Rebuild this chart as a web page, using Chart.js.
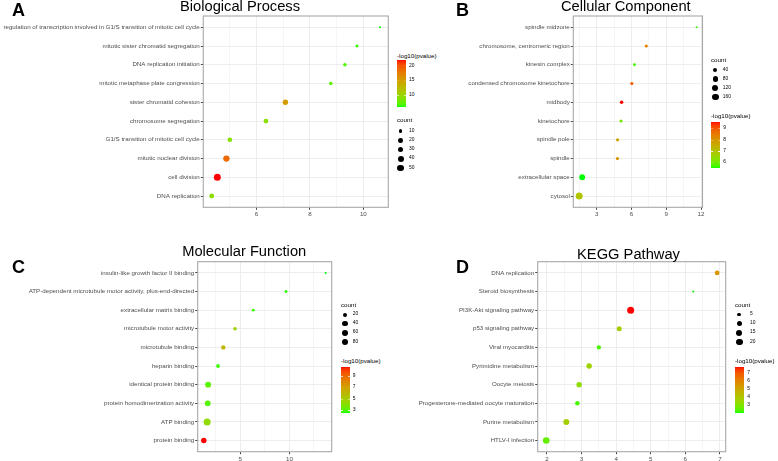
<!DOCTYPE html>
<html><head><meta charset="utf-8">
<script src="https://cdn.jsdelivr.net/npm/chart.js@4/dist/chart.umd.min.js"></script>
<style>
html,body{margin:0;padding:0;background:#fff;width:778px;height:461px;overflow:hidden;}
#root{position:relative;width:778px;height:461px;font-family:"Liberation Sans",Arial,Helvetica,sans-serif;}
.t{position:absolute;white-space:nowrap;line-height:1;color:#000;}
.dot{position:absolute;border-radius:50%;background:#000;}
</style></head><body>
<div id="root"></div>
<script>
// ---------------- DATA ----------------
// A: Biological Process (top to bottom)
const bpTerms = ["regulation of transcription involved in G1/S transition of mitotic cell cycle","mitotic sister chromatid segregation","DNA replication initiation","mitotic metaphase plate congression","sister chromatid cohesion","chromosome segregation","G1/S transition of mitotic cell cycle","mitotic nuclear division","cell division","DNA replication"];
const bpEnrich = [10.62, 9.76, 9.31, 8.78, 7.08, 6.35, 5.00, 4.87, 4.53, 4.32];
const bpCount  = [5, 7, 10, 10, 28, 20, 19, 42, 55, 22];
const bpLogP   = [6.2, 6.7, 7.3, 7.5, 15.3, 9.3, 9.3, 18.8, 22.0, 9.6];
const bpXTicks = [6, 8, 10];
const bpXGrid  = [5, 6, 7, 8, 9, 10];
const bpCountBreaks = [10, 20, 30, 40, 50];
const bpColorBreaks = [10, 15, 20];

// B: Cellular Component
const ccTerms = ["spindle midzone","chromosome, centromeric region","kinesin complex","condensed chromosome kinetochore","midbody","kinetochore","spindle pole","spindle","extracellular space","cytosol"];
const ccEnrich = [11.62, 7.28, 6.26, 6.03, 5.15, 5.10, 4.80, 4.79, 1.75, 1.49];
const ccCount  = [10, 20, 15, 20, 25, 20, 22, 22, 120, 190];
const ccLogP   = [5.65, 8.4, 5.75, 9.0, 9.6, 6.1, 7.7, 8.0, 5.55, 6.97];
const ccXTicks = [3, 6, 9, 12];
const ccXGrid  = [1.5, 3, 4.5, 6, 7.5, 9, 10.5, 12];
const ccCountBreaks = [40, 80, 120, 160];
const ccColorBreaks = [6, 7, 8, 9];

// C: Molecular Function
const mfTerms = ["insulin-like growth factor II binding","ATP-dependent microtubule motor activity, plus-end-directed","extracellular matrix binding","microtubule motor activity","microtubule binding","heparin binding","identical protein binding","protein homodimerization activity","ATP binding","protein binding"];
const mfEnrich = [13.69, 9.66, 6.32, 4.46, 3.27, 2.73, 1.72, 1.68, 1.62, 1.28];
const mfCount  = [3, 5, 6, 12, 22, 15, 55, 52, 90, 45];
const mfLogP   = [2.57, 2.7, 2.8, 4.8, 6.2, 2.9, 3.2, 3.1, 4.4, 10.7];
const mfXTicks = [5, 10];
const mfXGrid  = [2.5, 5, 7.5, 10, 12.5];
const mfCountBreaks = [20, 40, 60, 80];
const mfColorBreaks = [3, 5, 7, 9];

// D: KEGG Pathway
const kgTerms = ["DNA replication","Steroid biosynthesis","PI3K-Akt signaling pathway","p53 signaling pathway","Viral myocarditis","Pyrimidine metabolism","Oocyte meiosis","Progesterone-mediated oocyte maturation","Purine metabolism","HTLV-I infection"];
const kgEnrich = [6.92, 6.23, 4.42, 4.09, 3.50, 3.22, 2.93, 2.88, 2.56, 1.98];
const kgCount  = [9, 3, 22, 10, 7, 12, 12, 8, 15, 19];
const kgLogP   = [5.6, 2.13, 7.87, 3.85, 2.4, 3.7, 3.4, 2.4, 3.85, 2.7];
const kgXTicks = [2, 3, 4, 5, 6, 7];
const kgXGrid  = [2, 2.5, 3, 3.5, 4, 4.5, 5, 5.5, 6, 6.5, 7];
const kgCountBreaks = [5, 10, 15, 20];
const kgColorBreaks = [3, 4, 5, 6, 7];

// ---------------- STYLE HELPERS ----------------
const FONT = '"Liberation Sans", Arial, Helvetica, sans-serif';
const LOW = [0, 255, 0], HIGH = [255, 0, 0];
function s2l(c){c/=255;return c<=0.04045?c/12.92:Math.pow((c+0.055)/1.055,2.4);}
function l2s(c){c=c<=0.0031308?12.92*c:1.055*Math.pow(Math.max(c,0),1/2.4)-0.055;return Math.round(Math.max(0,Math.min(1,c))*255);}
function toLab(rgb){const r=s2l(rgb[0]),g=s2l(rgb[1]),b=s2l(rgb[2]);
  const X=(0.4124*r+0.3576*g+0.1805*b)/0.95047,Y=0.2126*r+0.7152*g+0.0722*b,Z=(0.0193*r+0.1192*g+0.9505*b)/1.08883;
  const f=t=>t>0.008856?Math.cbrt(t):7.787*t+16/116;const fx=f(X),fy=f(Y),fz=f(Z);
  return [116*fy-16,500*(fx-fy),200*(fy-fz)];}
function fromLab(l){const fy=(l[0]+16)/116,fx=fy+l[1]/500,fz=fy-l[2]/200;
  const fi=t=>t>0.206893?t*t*t:(t-16/116)/7.787;
  const X=0.95047*fi(fx),Y=fi(fy),Z=1.08883*fi(fz);
  return [l2s(3.2406*X-1.5372*Y-0.4986*Z),l2s(-0.9689*X+1.8758*Y+0.0415*Z),l2s(0.0557*X-0.2040*Y+1.0570*Z)];}
const LAB0=toLab(LOW), LAB1=toLab(HIGH);
function ramp(t){t=Math.max(0,Math.min(1,t));const c=fromLab([0,1,2].map(i=>LAB0[i]+(LAB1[i]-LAB0[i])*t));return `rgb(${c[0]},${c[1]},${c[2]})`;}
function radius(c,cmin,cmax){return 1.0+2.5*Math.sqrt((c-cmin)/(cmax-cmin));}

const root=document.getElementById('root');
function txt(s,x,baseline,size,opts){opts=opts||{};const d=document.createElement('div');d.className='t';d.textContent=s;
  d.style.fontSize=size+'px';d.style.top=(baseline-0.8465*size)+'px';
  if(opts.bold)d.style.fontWeight='bold';
  d.style.left=x+'px';
  if(opts.center)d.style.transform='translateX(-50%)';
  root.appendChild(d);return d;}
function txtMid(s,x,cy,size){return txt(s,x,cy+0.716*size/2,size);}

const borderPlugin={id:'panelBorder',afterDraw(c){const a=c.chartArea,g=c.ctx;g.save();g.strokeStyle='#A8A8A8';g.lineWidth=1.1;
  g.strokeRect(a.left,a.top,a.right-a.left,a.bottom-a.top);g.restore();}};

const panels=[
 {terms:bpTerms,x:bpEnrich,count:bpCount,logp:bpLogP,xTicks:bpXTicks,xGrid:bpXGrid,countBreaks:bpCountBreaks,colorBreaks:bpColorBreaks,
  title:'Biological Process',titleX:240,titleBase:11.3,letter:'A',letterX:12,letterBase:16,
  cv:{left:0,top:0,w:392,h:222,yW:203.3,padTop:16,padRight:3.7,xH:14.7},
  lg:{x:397,colorTitleBase:57.8,barTop:60,barH:46.7,barW:8.6,colorLabelX:409,countTitleBase:122.7,itemYs:[131,140.7,149.7,158.7,168],circleX:400.7,countLabelX:409}},
 {terms:ccTerms,x:ccEnrich,count:ccCount,logp:ccLogP,xTicks:ccXTicks,xGrid:ccXGrid,countBreaks:ccCountBreaks,colorBreaks:ccColorBreaks,
  title:'Cellular Component',titleX:625.8,titleBase:11.5,letter:'B',letterX:456,letterBase:16,
  cv:{left:400,top:0,w:306,h:222,yW:173.3,padTop:16,padRight:3.3,xH:14.7},
  lg:{x:711,colorTitleBase:118.3,barTop:122,barH:46,barW:9,colorLabelX:723.3,countTitleBase:62.3,itemYs:[70,79,88,97],circleX:715.3,countLabelX:722.7}},
 {terms:mfTerms,x:mfEnrich,count:mfCount,logp:mfLogP,xTicks:mfXTicks,xGrid:mfXGrid,countBreaks:mfCountBreaks,colorBreaks:mfColorBreaks,
  title:'Molecular Function',titleX:244.2,titleBase:256.7,letter:'C',letterX:12,letterBase:273,
  cv:{left:0,top:228,w:336,h:233,yW:197.7,padTop:33.7,padRight:4.3,xH:9.3},
  lg:{x:341,colorTitleBase:363.5,barTop:366.7,barH:46,barW:9,colorLabelX:352.7,countTitleBase:307.3,itemYs:[314.7,323.7,332.7,342],circleX:345,countLabelX:352.7}},
 {terms:kgTerms,x:kgEnrich,count:kgCount,logp:kgLogP,xTicks:kgXTicks,xGrid:kgXGrid,countBreaks:kgCountBreaks,colorBreaks:kgColorBreaks,
  title:'KEGG Pathway',titleX:628.5,titleBase:259.3,letter:'D',letterX:456,letterBase:273,
  cv:{left:400,top:228,w:330,h:233,yW:137.7,padTop:33.7,padRight:4.3,xH:9.3},
  lg:{x:735,colorTitleBase:363.5,barTop:366.7,barH:46,barW:9,colorLabelX:747.3,countTitleBase:307.3,itemYs:[314.7,323.7,332.7,342],circleX:739.3,countLabelX:750}}
];

function build(p){
  const c=p.cv;
  const cv=document.createElement('canvas');cv.width=c.w;cv.height=c.h;
  cv.style.cssText=`position:absolute;left:${c.left}px;top:${c.top}px;width:${c.w}px;height:${c.h}px;`;
  root.appendChild(cv);
  const n=p.terms.length;
  const cmin=Math.min(...p.count),cmax=Math.max(...p.count);
  const vmin=Math.min(...p.logp),vmax=Math.max(...p.logp);
  const xlo=Math.min(...p.x),xhi=Math.max(...p.x),xr=xhi-xlo;
  const data=p.terms.map((t,i)=>({x:p.x[i],y:n-1-i,r:radius(p.count[i],cmin,cmax)}));
  const colors=p.logp.map(v=>ramp((v-vmin)/(vmax-vmin)));
  const isMajor=v=>p.xTicks.some(m=>Math.abs(m-v)<1e-9);
  new Chart(cv,{type:'bubble',
    data:{datasets:[{data,backgroundColor:colors,borderWidth:0,hoverBorderWidth:0,hoverRadius:0}]},
    options:{responsive:false,animation:false,devicePixelRatio:1,events:[],
      layout:{padding:{top:c.padTop,right:c.padRight,left:0,bottom:0}},
      plugins:{legend:{display:false},tooltip:{enabled:false}},
      scales:{
        x:{type:'linear',min:xlo-0.05*xr,max:xhi+0.05*xr,
          afterBuildTicks:s=>{s.ticks=p.xGrid.map(v=>({value:v}));},
          afterFit:s=>{s.height=c.xH;},
          border:{display:false},
          grid:{color:'#EBEBEB',lineWidth:ctx=>ctx.tick&&isMajor(ctx.tick.value)?0.9:0.5,tickLength:2.5,
            tickColor:ctx=>ctx.tick&&isMajor(ctx.tick.value)?'#333333':'rgba(0,0,0,0)'},
          ticks:{autoSkip:false,maxRotation:0,minRotation:0,padding:1,color:'#4D4D4D',font:{size:6.2,family:FONT},
            callback:v=>isMajor(v)?String(v):''}},
        y:{type:'linear',min:-0.6,max:n-1+0.6,
          afterBuildTicks:s=>{s.ticks=p.terms.map((t,i)=>({value:i}));},
          afterFit:s=>{s.width=c.yW;},
          border:{display:false},
          grid:{color:'#EBEBEB',lineWidth:0.9,tickLength:2.5,tickColor:'#333333'},
          ticks:{autoSkip:false,padding:1,color:'#4D4D4D',font:{size:6.2,family:FONT},
            callback:v=>p.terms[n-1-v]}}
      }},
    plugins:[borderPlugin]});

  // titles
  txt(p.title,p.titleX,p.titleBase,14.7,{center:true});
  txt(p.letter,p.letterX,p.letterBase,18,{bold:true});

  // legend: colour bar drawn row by row on a small canvas
  const L=p.lg;
  txt('-log10(pvalue)',L.x,L.colorTitleBase,6.2);
  const bw=Math.round(L.barW*4),bh=Math.round(L.barH*4);
  const bc=document.createElement('canvas');bc.width=bw;bc.height=bh;
  bc.style.cssText=`position:absolute;left:${L.x}px;top:${L.barTop}px;width:${L.barW}px;height:${L.barH}px;`;
  const g=bc.getContext('2d');
  for(let yy=0;yy<bh;yy++){g.fillStyle=ramp(1-(yy+0.5)/bh);g.fillRect(0,yy,bw,1);}
  g.fillStyle='#fff';
  p.colorBreaks.forEach(v=>{const t=(v-vmin)/(vmax-vmin);const yy=bh*(1-t);
    g.fillRect(0,yy-1,bw*0.2,2);g.fillRect(bw*0.8,yy-1,bw*0.2,2);});
  root.appendChild(bc);
  p.colorBreaks.forEach(v=>{
    const t=(v-vmin)/(vmax-vmin);const cy=L.barTop+L.barH*(1-t);
    txtMid(String(v),L.colorLabelX,cy,4.9);
  });
  txt('count',L.x,L.countTitleBase,6.2);
  p.countBreaks.forEach((cnt,i)=>{
    const r=radius(cnt,cmin,cmax),cy=L.itemYs[i];
    const d=document.createElement('div');d.className='dot';
    d.style.left=(L.circleX-r)+'px';d.style.top=(cy-r)+'px';d.style.width=(2*r)+'px';d.style.height=(2*r)+'px';
    root.appendChild(d);
    txtMid(String(cnt),L.countLabelX,cy,4.9);
  });
}
panels.forEach(build);
</script>
</body></html>
